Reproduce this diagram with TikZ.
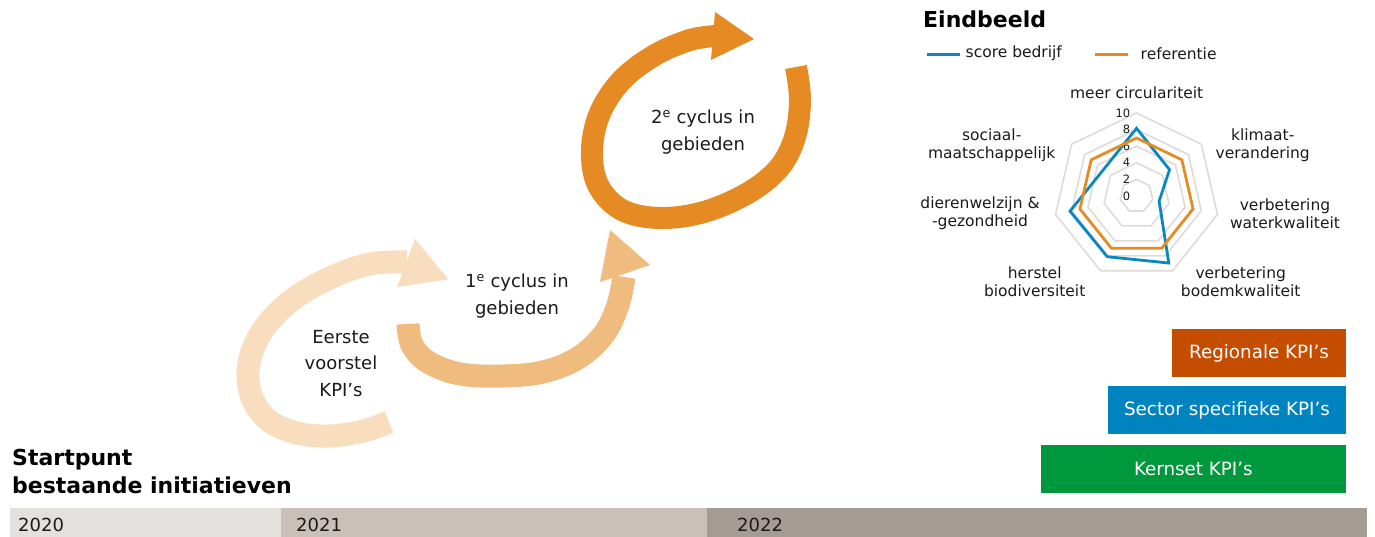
\documentclass[tikz,border=0pt]{standalone}
\usepackage{fontspec}
\setmainfont{DejaVu Sans}
\definecolor{peach}{HTML}{F9DDBF}
\definecolor{midor}{HTML}{F0BB7E}
\definecolor{darkor}{HTML}{E68A23}
\definecolor{regc}{HTML}{C44D00}
\definecolor{secc}{HTML}{0084C0}
\definecolor{kerc}{HTML}{00983D}
\definecolor{rblue}{HTML}{0A87C2}
\definecolor{rorange}{HTML}{E68A23}
\definecolor{gridc}{HTML}{DEDBD7}
\definecolor{yrA}{HTML}{E3E1DD}
\definecolor{yrB}{HTML}{C8C0B9}
\definecolor{yrC}{HTML}{A49B95}
\definecolor{txtc}{HTML}{1A1A1A}
\begin{document}
\begin{tikzpicture}[x=1pt,y=-1pt,
  band/.style={line width=23pt, line cap=butt},
  cyctxt/.style={align=center, text=txtc, inner sep=0pt, font=\fontsize{18}{26.7}\selectfont},
  kpibox/.style={anchor=north west, inner sep=0pt, outer sep=0pt, text=white, font=\fontsize{18.3}{22}\selectfont},
  axlab/.style={align=center, text=txtc, inner sep=0pt, font=\fontsize{15.5}{18}\selectfont},
  ticklab/.style={anchor=east, inner sep=0pt, text=txtc, font=\fontsize{11.5}{12}\selectfont},
  gridline/.style={gridc, line width=1.6pt, line join=miter},
  series/.style={line width=2.8pt, line join=miter},
  head/.style={anchor=base west, inner sep=0pt, text=black, font=\fontsize{22}{26}\selectfont\bfseries},
  yeartxt/.style={anchor=base west, inner sep=0pt, text=txtc, font=\fontsize{18}{22}\selectfont}
]
\useasboundingbox (0,0) rectangle (1375,537);

% timeline
\fill[yrA] (10,508.3) rectangle (281,537);
\fill[yrB] (281,508.3) rectangle (707,537);
\fill[yrC] (707,508.3) rectangle (1367,537);
\node[yeartxt] (y20) at (18,531.7) {2020};
\node[yeartxt] (y21) at (296,531.7) {2021};
\node[yeartxt] (y22) at (737,531.7) {2022};

% start text
\node[head] (sp1) at (12,465) {Startpunt};
\node[head] (sp2) at (12,493.3) {bestaande initiatieven};

% light arrow
\draw[peach, band] plot[smooth, tension=0.6] coordinates {(389,422) (363,431) (330,436) (297,433) (268,420) (251,395) (249,363) (263,330) (292,300) (330,278) (370,264) (407,262)};
\fill[peach] (415,239) -- (448.3,279.3) -- (397,287) -- cycle;

% medium arrow
\draw[midor, band] plot[smooth, tension=0.6] coordinates {(408,324) (412,345) (428,362) (460,374) (503,376) (543,372) (578,358) (604,334) (618,305) (624,277)};
\fill[midor] (600,282) -- (610,230) -- (650,265) -- cycle;

% dark arrow
\draw[darkor, line width=22pt, line cap=butt] plot[smooth, tension=0.6] coordinates {(796,67) (800,100) (795,137) (779,168) (748,193) (704,212) (660,218) (622,210) (598,185) (592,150) (600,113) (622,80) (655,55) (690,40) (716,36)};
\fill[darkor] (715,12) -- (754,39) -- (711,60) -- cycle;

% cycle texts
\node[cyctxt] (t0) at (341,363.3) {Eerste\\voorstel\\KPI’s};
\node[cyctxt] (t1) at (517,295.7) {1\textsuperscript{e} cyclus in\\gebieden};
\node[cyctxt] (t2) at (703,131.7) {2\textsuperscript{e} cyclus in\\gebieden};

% KPI boxes
\node[kpibox, fill=regc, minimum width=173.4pt, minimum height=48pt] (reg) at (1172.3,329.3) {Regionale KPI’s};
\node[kpibox, fill=secc, minimum width=237.4pt, minimum height=48pt] (sec) at (1108.3,386.3) {Sector specifieke KPI’s};
\node[kpibox, fill=kerc, minimum width=304.7pt, minimum height=48pt] (ker) at (1041,445.3) {Kernset KPI’s};

% Eindbeeld title and legend
\node[head] (eb) at (923,27.3) {Eindbeeld};
\coordinate (lb1) at (927,54.5);
\coordinate (lb2) at (960,54.5);
\coordinate (lo1) at (1095,54.5);
\coordinate (lo2) at (1128,54.5);
\draw[rblue, line width=3pt] (lb1) -- (lb2);
\draw[rorange, line width=3pt] (lo1) -- (lo2);
\node[axlab, anchor=west] (lgb) at (965.5,53.3) {score bedrijf};
\node[axlab, anchor=west] (lgo) at (1140.5,53.3) {referentie};

% radar
\coordinate (C) at (1136.5,196);
\begin{scope}[shift={(C)}]
  \foreach \r in {2,4,6,8,10}
    \draw[gridline] (-90:\r*8.3) \foreach \k in {1,...,6}{ -- ({\k*360/7-90}:\r*8.3)} -- cycle;
  \foreach \v in {0,2,4,6,8,10}
    \node[ticklab] (tk\v) at (-6,-\v*8.3) {\v};
  \draw[rblue, series] (-90:67.7) -- (-38.571:42.2) -- (12.857:23.2) -- (64.286:74.4) -- (115.714:67.4) -- (167.143:68.2) -- (218.571:42.3) -- cycle;
  \draw[rorange, series] (-90:58) -- (-38.571:58) -- (12.857:58) -- (64.286:58) -- (115.714:58) -- (167.143:58) -- (218.571:58) -- cycle;
\end{scope}

\node[axlab] (a0) at (1136.7,93) {meer circulariteit};
\node[axlab] (a1) at (1262.7,145) {klimaat-\\verandering};
\node[axlab] (a2) at (1285,214) {verbetering\\waterkwaliteit};
\node[axlab] (a3) at (1240.7,281.7) {verbetering\\bodemkwaliteit};
\node[axlab] (a4) at (1034.7,281.7) {herstel\\biodiversiteit};
\node[axlab] (a5) at (980,213.5) {dierenwelzijn \&\\-gezondheid};
\node[axlab] (a6) at (991.7,145) {sociaal-\\maatschappelijk};
\end{tikzpicture}
\end{document}
